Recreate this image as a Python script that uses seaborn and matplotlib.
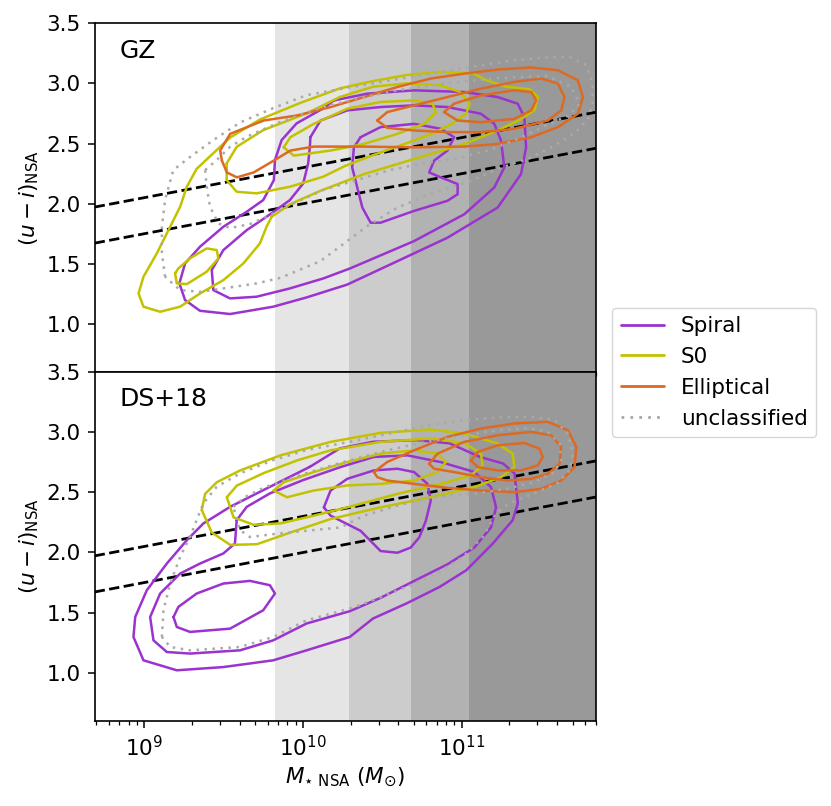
import numpy as np
import pandas as pd
import matplotlib
matplotlib.use("Agg")
import matplotlib.pyplot as plt
import seaborn as sns
from matplotlib.lines import Line2D

# contour outlines, points are (log10 M*, u-i)
# ---- GZ panel ----
GZ_SPIRAL_1 = [(10.196, 2.859), (10.406, 2.915), (10.701, 2.943), (11.017, 2.929), (11.227, 2.887),
               (11.353, 2.832), (11.395, 2.720), (11.406, 2.469), (11.374, 2.246), (11.227, 1.968),
               (10.911, 1.717), (10.596, 1.522), (10.280, 1.327), (10.024, 1.220), (9.814, 1.143),
               (9.542, 1.082), (9.353, 1.109), (9.259, 1.198), (9.223, 1.337), (9.259, 1.503),
               (9.353, 1.642), (9.500, 1.808), (9.647, 1.933), (9.751, 2.030), (9.818, 2.196),
               (9.825, 2.363), (9.867, 2.529), (9.961, 2.668), (10.129, 2.793)]
GZ_SPIRAL_2 = [(10.048, 2.553), (10.112, 2.692), (10.280, 2.776), (10.490, 2.804), (10.701, 2.818),
               (10.911, 2.804), (11.122, 2.748), (11.206, 2.664), (11.248, 2.525), (11.269, 2.302),
               (11.206, 2.135), (11.017, 1.912), (10.701, 1.689), (10.297, 1.461), (10.129, 1.378),
               (9.919, 1.295), (9.709, 1.226), (9.542, 1.212), (9.437, 1.281), (9.427, 1.448),
               (9.500, 1.614), (9.647, 1.780), (9.772, 1.891), (9.919, 2.030), (10.003, 2.169),
               (10.034, 2.335), (10.045, 2.480)]
GZ_SPIRAL_3 = [(10.364, 2.553), (10.490, 2.637), (10.701, 2.664), (10.869, 2.623), (10.953, 2.553),
               (10.911, 2.442), (10.827, 2.358), (10.796, 2.260), (10.869, 2.219), (10.975, 2.163),
               (10.975, 2.079), (10.911, 2.024), (10.701, 1.940), (10.490, 1.842), (10.427, 1.842),
               (10.375, 1.968), (10.343, 2.135), (10.311, 2.302), (10.322, 2.469)]
GZ_S0_1 = [(9.804, 1.891), (9.772, 1.808), (9.730, 1.669), (9.626, 1.503), (9.500, 1.364),
           (9.353, 1.253), (9.228, 1.143), (9.102, 1.101), (8.997, 1.143), (8.966, 1.253),
           (8.997, 1.392), (9.081, 1.586), (9.165, 1.808), (9.228, 1.975), (9.270, 2.141),
           (9.332, 2.290), (9.437, 2.420), (9.542, 2.550), (9.730, 2.700), (9.982, 2.837),
           (10.233, 2.959), (10.442, 3.020), (10.652, 3.070), (10.862, 3.097), (11.071, 3.084),
           (11.155, 3.028), (11.281, 2.973), (11.427, 2.953), (11.480, 2.889), (11.459, 2.779),
           (11.365, 2.696), (11.226, 2.609), (11.017, 2.497), (10.805, 2.413), (10.596, 2.330),
           (10.385, 2.246), (10.111, 2.107), (9.922, 1.997)]
GZ_S0_2 = [(9.521, 2.335), (9.584, 2.473), (9.751, 2.612), (10.024, 2.751), (10.233, 2.887),
           (10.442, 2.973), (10.652, 3.001), (10.862, 2.987), (10.987, 2.931), (11.050, 2.834),
           (11.030, 2.751), (10.945, 2.668), (10.820, 2.585), (10.652, 2.502), (10.442, 2.404),
           (10.265, 2.313), (10.128, 2.224), (9.919, 2.141), (9.710, 2.086), (9.584, 2.099),
           (9.521, 2.196)]
GZ_S0_3A = [(9.196, 1.420), (9.207, 1.337), (9.270, 1.331), (9.395, 1.434), (9.469, 1.545),
            (9.458, 1.614), (9.395, 1.628), (9.290, 1.545), (9.217, 1.462)]
GZ_S0_3B = [(9.880, 2.469), (9.943, 2.400), (10.175, 2.442), (10.385, 2.497), (10.596, 2.581),
            (10.764, 2.664), (10.838, 2.762), (10.817, 2.832), (10.701, 2.859), (10.490, 2.846),
            (10.280, 2.790), (10.069, 2.664), (9.922, 2.553)]
GZ_ELL_1 = [(9.491, 2.358), (9.480, 2.442), (9.543, 2.581), (9.754, 2.692), (9.964, 2.734),
            (10.175, 2.804), (10.385, 2.887), (10.596, 2.971), (10.806, 3.041), (11.017, 3.082),
            (11.227, 3.116), (11.438, 3.133), (11.606, 3.110), (11.732, 3.027), (11.764, 2.887),
            (11.732, 2.748), (11.606, 2.637), (11.438, 2.553), (11.227, 2.497), (11.017, 2.475),
            (10.701, 2.469), (10.385, 2.475), (10.069, 2.475), (9.922, 2.442), (9.817, 2.358),
            (9.691, 2.260), (9.585, 2.219), (9.522, 2.260)]
GZ_ELL_2 = [(10.469, 2.692), (10.532, 2.762), (10.701, 2.818), (10.911, 2.887), (11.122, 2.957),
            (11.332, 3.013), (11.501, 3.041), (11.606, 2.999), (11.648, 2.887), (11.627, 2.776),
            (11.543, 2.692), (11.332, 2.623), (11.122, 2.595), (10.911, 2.595), (10.701, 2.609),
            (10.532, 2.631)]
GZ_ELL_3 = [(10.890, 2.762), (10.953, 2.832), (11.122, 2.901), (11.332, 2.943), (11.438, 2.929),
            (11.469, 2.859), (11.438, 2.776), (11.332, 2.706), (11.122, 2.678), (10.974, 2.692)]
GZ_UNC_1 = [(9.133, 1.392), (9.113, 1.587), (9.113, 1.808), (9.133, 2.030), (9.185, 2.280),
            (9.290, 2.388), (9.437, 2.529), (9.605, 2.675), (9.814, 2.795), (10.024, 2.903),
            (10.233, 2.953), (10.490, 3.012), (10.806, 3.082), (11.059, 3.138), (11.333, 3.194),
            (11.543, 3.216), (11.679, 3.220), (11.784, 3.153), (11.825, 3.001), (11.825, 2.834),
            (11.792, 2.695), (11.710, 2.587), (11.590, 2.487), (11.427, 2.379), (11.239, 2.296),
            (11.059, 2.190), (10.827, 2.093), (10.596, 1.968), (10.406, 1.814), (10.280, 1.689),
            (10.111, 1.522), (9.859, 1.383), (9.710, 1.337), (9.500, 1.295), (9.353, 1.267),
            (9.228, 1.281)]
GZ_UNC_2 = [(9.385, 2.280), (9.458, 2.363), (9.542, 2.473), (9.647, 2.557), (9.856, 2.679),
            (10.107, 2.796), (10.359, 2.879), (10.610, 2.946), (10.925, 3.004), (11.239, 3.045),
            (11.541, 3.062), (11.692, 2.970), (11.742, 2.829), (11.679, 2.737), (11.522, 2.646),
            (11.365, 2.546), (11.176, 2.446), (10.967, 2.377), (10.757, 2.335), (10.548, 2.280),
            (10.338, 2.196), (10.128, 2.113), (9.919, 1.988), (9.793, 1.905), (9.667, 1.830),
            (9.542, 1.797), (9.468, 1.836), (9.416, 1.974), (9.395, 2.141)]

# ---- DS+18 panel ----
DS_SPIRAL_1 = [(10.045, 2.712), (9.751, 2.518), (9.542, 2.379), (9.374, 2.241), (9.270, 2.102),
               (9.144, 1.908), (9.018, 1.686), (8.945, 1.464), (8.934, 1.298), (8.997, 1.104),
               (9.207, 1.021), (9.500, 1.048), (9.814, 1.104), (10.024, 1.187), (10.296, 1.298),
               (10.442, 1.451), (10.652, 1.576), (10.862, 1.714), (11.030, 1.853), (11.197, 2.075),
               (11.322, 2.269), (11.354, 2.408), (11.333, 2.657), (11.260, 2.740), (11.113, 2.795),
               (10.925, 2.907), (10.715, 2.934), (10.442, 2.920), (10.233, 2.865)]
DS_SPIRAL_2 = [(9.584, 2.269), (9.647, 2.379), (9.793, 2.491), (10.003, 2.602), (10.238, 2.710),
               (10.448, 2.794), (10.659, 2.807), (10.869, 2.751), (11.080, 2.669), (11.185, 2.543),
               (11.217, 2.376), (11.185, 2.208), (11.080, 2.041), (10.911, 1.902), (10.701, 1.763),
               (10.490, 1.623), (10.296, 1.512), (10.024, 1.410), (9.814, 1.270), (9.605, 1.187),
               (9.290, 1.160), (9.144, 1.173), (9.060, 1.270), (9.039, 1.464), (9.102, 1.659),
               (9.228, 1.825), (9.353, 1.908), (9.500, 1.992), (9.573, 2.075)]
DS_SPIRAL_3A = [(9.186, 1.464), (9.207, 1.381), (9.290, 1.340), (9.542, 1.367), (9.751, 1.520),
                (9.825, 1.659), (9.793, 1.728), (9.668, 1.764), (9.500, 1.742), (9.332, 1.659),
                (9.217, 1.548)]
DS_SPIRAL_3B = [(10.133, 2.375), (10.175, 2.515), (10.280, 2.612), (10.448, 2.682), (10.596, 2.696),
                (10.701, 2.668), (10.785, 2.571), (10.806, 2.431), (10.775, 2.264), (10.733, 2.125),
                (10.680, 2.041), (10.596, 1.998), (10.490, 2.012), (10.427, 2.096), (10.364, 2.180),
                (10.280, 2.236), (10.175, 2.306)]
DS_S0_1 = [(9.364, 2.353), (9.385, 2.487), (9.459, 2.584), (9.606, 2.682), (9.859, 2.807),
           (10.175, 2.919), (10.490, 2.994), (10.806, 3.022), (11.017, 2.988), (11.227, 2.905),
           (11.322, 2.821), (11.332, 2.710), (11.248, 2.626), (11.080, 2.543), (10.806, 2.459),
           (10.490, 2.375), (10.175, 2.278), (9.922, 2.166), (9.712, 2.069), (9.543, 2.063),
           (9.427, 2.166)]
DS_S0_2 = [(9.522, 2.459), (9.585, 2.556), (9.754, 2.660), (9.964, 2.765), (10.175, 2.849),
           (10.490, 2.919), (10.806, 2.947), (11.017, 2.910), (11.122, 2.821), (11.132, 2.724),
           (11.059, 2.640), (10.869, 2.570), (10.596, 2.487), (10.280, 2.375), (10.069, 2.306),
           (9.859, 2.242), (9.691, 2.230), (9.564, 2.292)]
DS_S0_3 = [(9.817, 2.515), (9.880, 2.584), (10.069, 2.668), (10.280, 2.752), (10.490, 2.821),
           (10.701, 2.849), (10.848, 2.821), (10.901, 2.752), (10.848, 2.668), (10.701, 2.598),
           (10.490, 2.570), (10.280, 2.557), (10.069, 2.515), (9.901, 2.459)]
DS_ELL_1 = [(10.448, 2.668), (10.532, 2.752), (10.701, 2.849), (10.911, 2.960), (11.122, 3.030),
            (11.332, 3.072), (11.543, 3.086), (11.669, 3.016), (11.722, 2.877), (11.711, 2.710),
            (11.627, 2.598), (11.501, 2.529), (11.332, 2.501), (11.122, 2.515), (10.911, 2.537),
            (10.701, 2.570), (10.532, 2.598), (10.469, 2.626)]
DS_ELL_2 = [(10.796, 2.738), (10.848, 2.821), (11.017, 2.919), (11.227, 2.974), (11.438, 3.002),
            (11.564, 2.974), (11.627, 2.877), (11.617, 2.738), (11.543, 2.654), (11.438, 2.612),
            (11.290, 2.598), (11.122, 2.626), (10.953, 2.668), (10.827, 2.696)]
DS_ELL_3 = [(11.059, 2.765), (11.101, 2.835), (11.227, 2.891), (11.395, 2.910), (11.490, 2.863),
            (11.511, 2.793), (11.480, 2.724), (11.374, 2.682), (11.227, 2.682), (11.101, 2.710)]
DS_UNC_1 = [(9.113, 1.298), (9.123, 1.520), (9.165, 1.742), (9.228, 1.963), (9.290, 2.130),
            (9.374, 2.408), (9.458, 2.546), (9.605, 2.657), (9.814, 2.768), (10.024, 2.851),
            (10.296, 2.920), (10.596, 3.002), (10.806, 3.058), (11.017, 3.100), (11.227, 3.122),
            (11.437, 3.128), (11.585, 3.100), (11.669, 2.988), (11.701, 2.821), (11.680, 2.682),
            (11.603, 2.577), (11.459, 2.493), (11.301, 2.410), (11.218, 2.324), (11.134, 2.130),
            (11.008, 1.963), (10.841, 1.825), (10.652, 1.714), (10.442, 1.603), (10.296, 1.534),
            (10.024, 1.437), (9.814, 1.298), (9.605, 1.215), (9.290, 1.187), (9.165, 1.215)]
DS_UNC_2 = [(9.563, 2.379), (9.636, 2.460), (9.762, 2.543), (9.982, 2.643), (10.233, 2.743),
            (10.485, 2.834), (10.736, 2.909), (10.987, 2.967), (11.239, 3.017), (11.427, 3.034),
            (11.541, 3.001), (11.617, 2.905), (11.627, 2.765), (11.585, 2.668), (11.459, 2.585),
            (11.302, 2.535), (11.113, 2.493), (10.806, 2.460), (10.596, 2.389), (10.385, 2.306),
            (10.238, 2.208), (10.028, 2.181), (9.817, 2.153), (9.668, 2.128), (9.605, 2.186)]

PANELS = {
    "GZ": {"Spiral": [GZ_SPIRAL_1, GZ_SPIRAL_2, GZ_SPIRAL_3],
           "S0": [GZ_S0_1, GZ_S0_2, GZ_S0_3A, GZ_S0_3B],
           "Elliptical": [GZ_ELL_1, GZ_ELL_2, GZ_ELL_3],
           "unclassified": [GZ_UNC_1, GZ_UNC_2]},
    "DS+18": {"Spiral": [DS_SPIRAL_1, DS_SPIRAL_2, DS_SPIRAL_3A, DS_SPIRAL_3B],
              "S0": [DS_S0_1, DS_S0_2, DS_S0_3],
              "Elliptical": [DS_ELL_1, DS_ELL_2, DS_ELL_3],
              "unclassified": [DS_UNC_1, DS_UNC_2]},
}

MORPHS = ["Spiral", "S0", "Elliptical", "unclassified"]
COLORS = {"Spiral": "#9a33cf", "S0": "#c2c200", "Elliptical": "#dc6a22", "unclassified": "darkgray"}
DOTS = (1, 2.2)
DASHES = {"Spiral": "", "S0": "", "Elliptical": "", "unclassified": DOTS}

# stellar-mass bins shaded in the background
BIN_EDGES = [6.7e9, 1.95e10, 4.8e10, 1.12e11, 1e13]
BIN_ALPHA = [0.1, 0.2, 0.3, 0.4]

# dividing lines (log10 M*, u-i) at the two ends of the axis
LINE_LOGM = [8.69, 11.85]
LINE_UPPER = [1.972, 2.762]
LINE_LOWER = [1.672, 2.462]

Y_TICKS = [1.0, 1.5, 2.0, 2.5, 3.0, 3.5]
XLIM = (4.9e8, 7e11)
YLIM = (0.6, 3.5)


def build_frame():
    rows = []
    cid = 0
    for panel, groups in PANELS.items():
        for morph, contours in groups.items():
            for pts in contours:
                pts = list(pts) + [pts[0]]  # close the loop
                for i, (lm, ui) in enumerate(pts):
                    rows.append((panel, morph, cid, i, 10 ** lm, ui))
                cid += 1
    return pd.DataFrame(rows, columns=["panel", "morph", "cid", "order", "mass", "ui"])


def main():
    sns.set_style("ticks")
    plt.rcParams["font.family"] = ["DejaVu Sans"]
    plt.rcParams["mathtext.fontset"] = "dejavusans"
    for k in ["text.color", "axes.labelcolor", "xtick.color", "ytick.color", "axes.edgecolor"]:
        plt.rcParams[k] = "black"
    plt.rcParams["lines.solid_joinstyle"] = "round"
    plt.rcParams["lines.dash_joinstyle"] = "round"
    df = build_frame()

    fig = plt.figure(figsize=(8.31, 8.06), dpi=100)
    ax_top = fig.add_axes([0.114, 0.5385, 0.603, 0.4325])
    ax_bot = fig.add_axes([0.114, 0.1055, 0.603, 0.433], sharex=ax_top)

    for ax, panel in [(ax_top, "GZ"), (ax_bot, "DS+18")]:
        for lo, hi, a in zip(BIN_EDGES[:-1], BIN_EDGES[1:], BIN_ALPHA):
            ax.axvspan(lo, hi, color="k", alpha=a, lw=0, zorder=0)
        xs = [10 ** v for v in LINE_LOGM]
        ax.plot(xs, LINE_UPPER, "k--", lw=2, zorder=2)
        ax.plot(xs, LINE_LOWER, "k--", lw=2, zorder=2)

        sub = df[df.panel == panel]
        sns.lineplot(data=sub, x="mass", y="ui", hue="morph", style="morph",
                     units="cid", estimator=None, sort=False,
                     hue_order=MORPHS, style_order=MORPHS,
                     palette=COLORS, dashes=DASHES, lw=1.8,
                     legend=False, ax=ax, zorder=3)

        ax.set_xscale("log")
        ax.set_xlim(*XLIM)
        ax.set_ylim(*YLIM)
        ax.set_yticks(Y_TICKS)
        ax.set_ylabel(r"$(u-i)_{\mathrm{NSA}}$", fontsize=15.5)
        ax.set_xlabel("")
        ax.text(0.05, 0.922, panel, transform=ax.transAxes, fontsize=18, va="center")
        ax.tick_params(labelsize=15.5, length=4.8, width=1.1, pad=5.2)
        ax.tick_params(which="minor", length=2.8, width=0.9)
        for s in ax.spines.values():
            s.set_linewidth(1.2)

    ax_top.tick_params(labelbottom=False)
    ax_bot.set_xlabel(r"$M_{\star\ \mathrm{NSA}}$ ($M_{\odot}$)", fontsize=15.5)

    handles = [Line2D([], [], color=COLORS[m], lw=2,
                      dashes=DOTS if m == "unclassified" else (None, None)) for m in MORPHS]
    fig.legend(handles, MORPHS, loc="center left", bbox_to_anchor=(0.7365, 0.538),
               borderaxespad=0, fontsize=15.5, frameon=True, edgecolor="#cccccc")

    fig.savefig("out.png", dpi=100)


if __name__ == "__main__":
    main()
